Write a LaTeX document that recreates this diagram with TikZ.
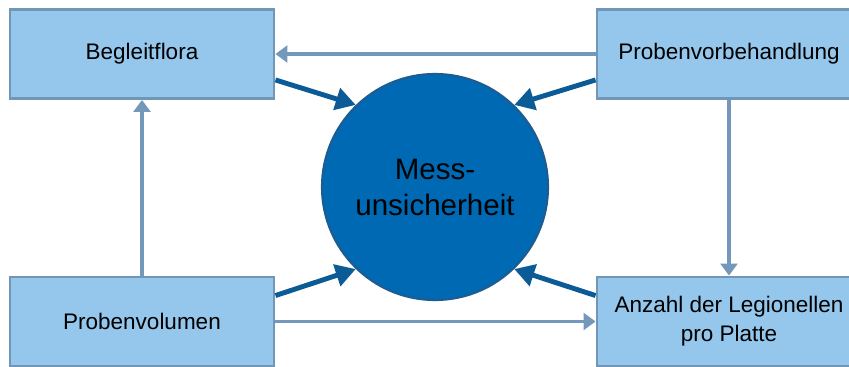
\documentclass[tikz,border=0pt]{standalone}
\usepackage{fontspec}
\setmainfont{Liberation Sans}
\usetikzlibrary{arrows.meta}
\definecolor{boxfill}{HTML}{95C6EB}
\definecolor{boxline}{HTML}{7196B6}
\definecolor{ringfill}{HTML}{0069B4}
\definecolor{ringline}{HTML}{1D5C90}
\definecolor{darkarrow}{HTML}{0B5B96}
\definecolor{lightarrow}{HTML}{7398B9}

\begin{document}
\begin{tikzpicture}[x=0.025cm,y=-0.025cm]
\tikzstyle{f}=[draw=boxline,line width=2pt,fill=boxfill,minimum width=6.6cm,minimum height=2.225cm,inner sep=0pt,align=center,font=\fontsize{16}{20.6}\selectfont]
\tikzstyle{lo}=[draw=lightarrow,line width=2.6pt,-{Triangle[length=0.3cm,width=0.42cm]}]
\tikzstyle{hi}=[draw=darkarrow,line width=3.5pt,-{Triangle[length=0.5cm,width=0.55cm]}]
\useasboundingbox (0,0) rectangle (849,367);
\clip (0,0) rectangle (849,367);
   \draw (142,54) node (bf) [f] {Begleitflora};
   \draw (729,54) node (vb) [f] {Probenvorbehandlung};
   \draw (142,321.5) node (pv) [f] {Probenvolumen};
   \draw (729,321.5) node (lz) [f] {Anzahl der Legionellen\\pro Platte};

   \draw (435,187) node (mu) [draw=ringline,line width=1.5pt,fill=ringfill,circle,minimum size=5.65cm,inner sep=0pt,align=center,font=\fontsize{21}{25.6}\selectfont] {Mess-\\unsicherheit};

   \path [lo] (vb) -- (bf) ;
   \path [lo] (pv) -- (bf) ;
   \path [lo] (vb) -- (lz) ;
   \path [lo] (pv) -- (lz) ;

   \path [hi] (bf.-11) -- (mu.134) ;
   \path [hi] (vb.191) -- (mu.46) ;
   \path [hi] (pv.11) -- (mu.226) ;
   \path [hi] (lz.169) -- (mu.-46) ;
\end{tikzpicture}
\end{document}
